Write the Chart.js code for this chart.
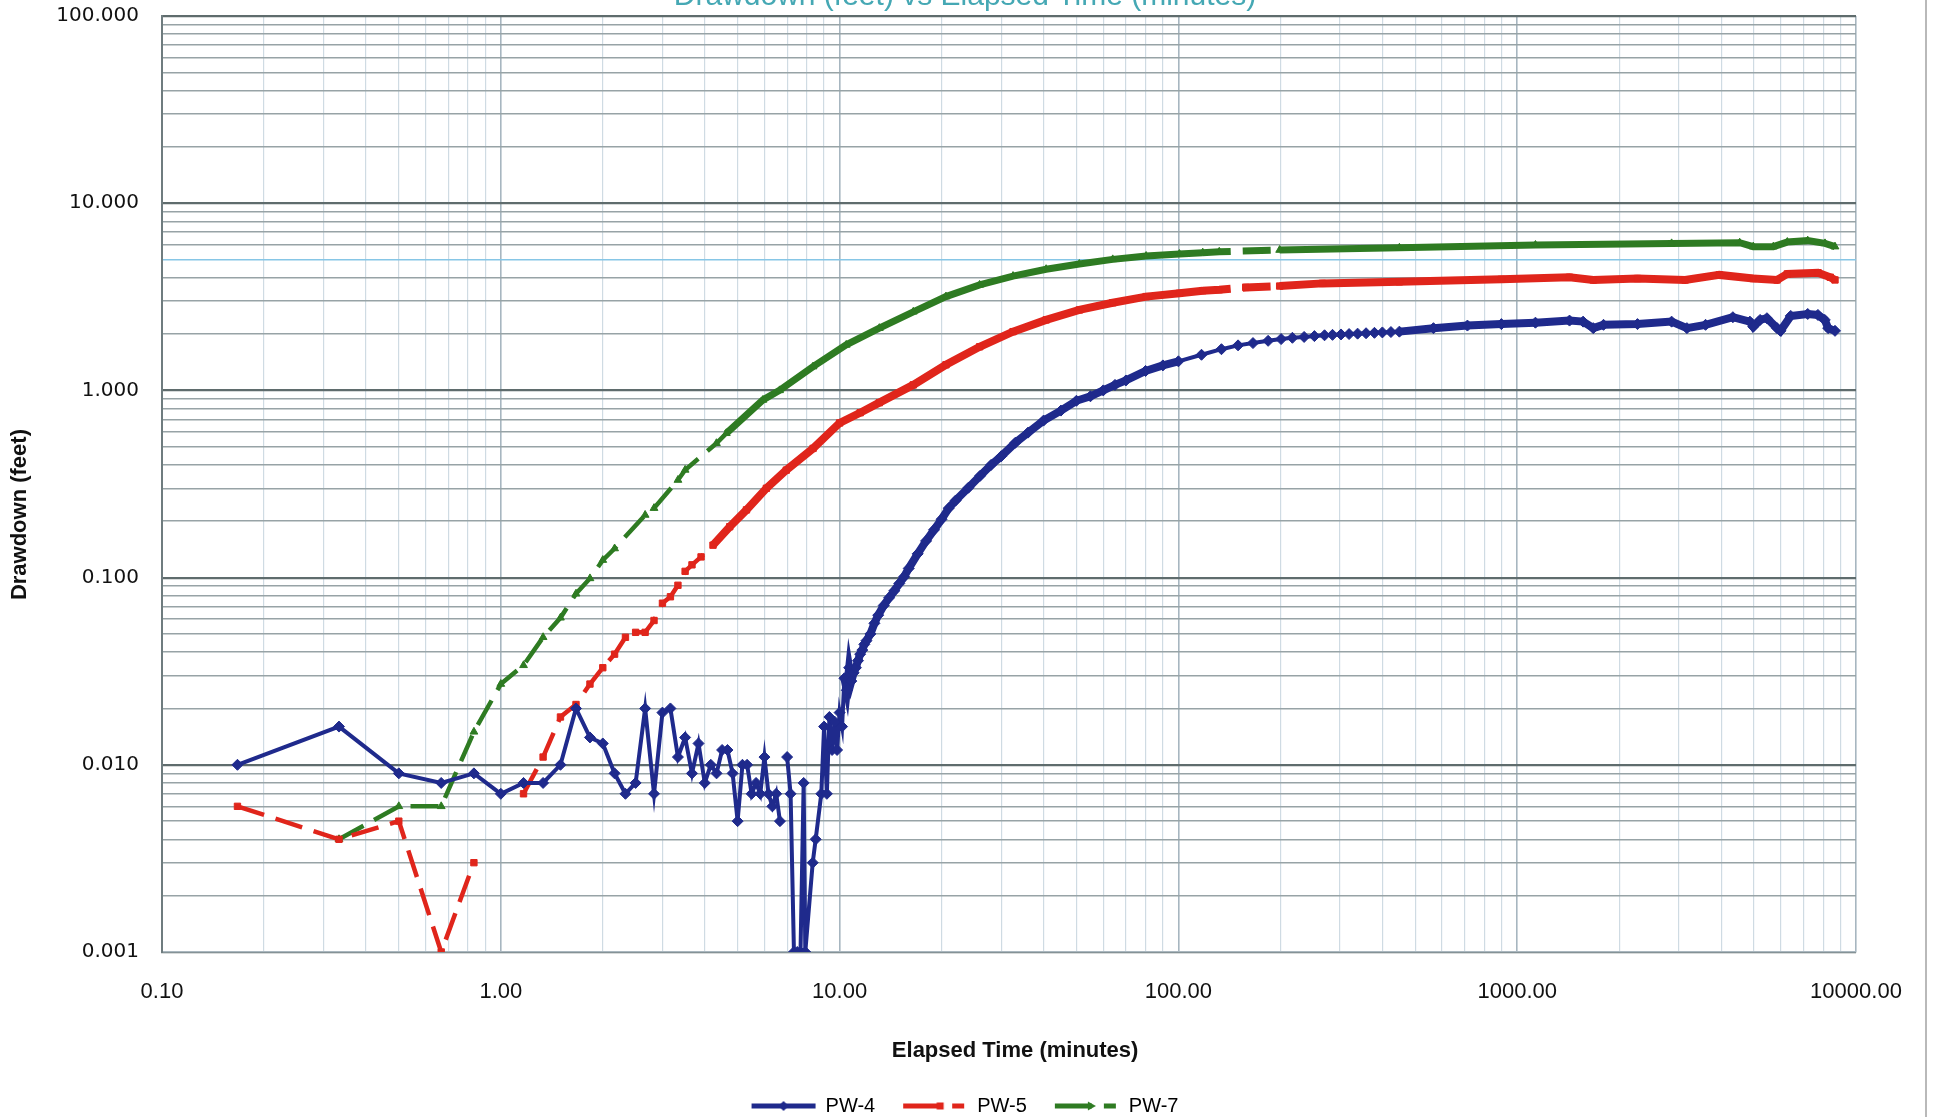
<!DOCTYPE html>
<html lang="en">
<head>
  <meta charset="UTF-8" />
  <meta name="viewport" content="width=device-width, initial-scale=1.0" />
  <title>Drawdown (feet) vs Elapsed Time (minutes)</title>
  <script src="https://cdn.jsdelivr.net/npm/chart.js"></script>
  <style>
    html, body {
      margin: 0;
      padding: 0;
      background: #fff;
      overflow: hidden;
    }
    body {
      width: 1934px;
      height: 1117px;
      position: relative;
    }
    .wrap {
      position: absolute;
      left: 0;
      top: -23px;
      width: 1934px;
      height: 1149px;
    }
    .edge {
      position: absolute;
      left: 1925px;
      top: 0;
      width: 2px;
      height: 1117px;
      background: #b9b9b9;
    }
  </style>
</head>
<body>
  <div class="wrap"><canvas id="drawdownChart"></canvas></div>
  <div class="edge"></div>

  <script>
    // elapsed time (minutes) / drawdown (feet)
    const pw4Time = [0.167, 0.333, 0.5, 0.667, 0.833, 1.0, 1.167, 1.333, 1.5, 1.667, 1.833, 2.0,
      2.167, 2.333, 2.5, 2.667, 2.833, 3.0, 3.167, 3.333, 3.5, 3.667, 3.833, 4.0,
      4.167, 4.333, 4.5, 4.667, 4.833, 5.0, 5.167, 5.333, 5.5, 5.667, 5.833, 6.0,
      6.167, 6.333, 6.5, 6.667, 6.833, 7.0, 7.167, 7.333, 7.5, 7.667, 7.833, 7.92,
      8.33, 8.5, 8.83, 9.0, 9.17, 9.33, 9.5, 9.67, 9.83, 10.0, 10.17, 10.33,
      10.5, 10.67, 10.83, 11.0, 11.17, 11.33, 11.5, 11.67, 11.83, 12.0, 12.33, 12.67,
      13.0, 13.5, 14.0, 14.5, 15.0, 15.5, 16.0, 17.0, 18.0, 19.0, 20.0, 21.0,
      22.0, 24.0, 26.0, 28.0, 30.0, 33.0, 36.0, 40.0, 45.0, 50.0, 55.0, 60.0,
      65.0, 70.0, 80.0, 90.0, 100, 117, 134, 150, 166, 184, 201, 217,
      235, 252, 270, 285, 302, 319, 338, 358, 379, 400, 424, 449,
      566, 713, 898, 1132, 1427, 1565, 1677, 1798, 2265, 2856, 3169, 3597,
      4331, 4862, 4975, 5212, 5458, 5848, 5985, 6418, 7203, 7720, 8087, 8276,
      8670];
    const pw4Drawdown = [0.010, 0.016, 0.009, 0.008, 0.009, 0.007, 0.008, 0.008, 0.010, 0.020, 0.014, 0.013,
      0.009, 0.007, 0.008, 0.020, 0.007, 0.019, 0.020, 0.011, 0.014, 0.009, 0.013, 0.008,
      0.010, 0.009, 0.012, 0.012, 0.009, 0.005, 0.010, 0.010, 0.007, 0.008, 0.007, 0.011,
      0.007, 0.006, 0.007, 0.005, null, 0.011, 0.007, 0.001, 0.001, 0.001, 0.008, 0.001,
      0.003, 0.004, 0.007, 0.016, 0.007, 0.018, 0.012, 0.017, 0.012, 0.019, 0.016, 0.029,
      0.025, 0.033, 0.028, 0.031, 0.033, 0.036, 0.039, 0.041, 0.044, 0.046, 0.050, 0.057,
      0.063, 0.071, 0.078, 0.085, 0.093, 0.101, 0.112, 0.134, 0.157, 0.180, 0.205, 0.235,
      0.258, 0.302, 0.350, 0.400, 0.445, 0.525, 0.595, 0.690, 0.780, 0.880, 0.930, 1.00,
      1.07, 1.13, 1.27, 1.36, 1.43, 1.55, 1.66, 1.74, 1.79, 1.84, 1.88, 1.91,
      1.93, 1.95, 1.97, 1.98, 1.99, 2.00, 2.01, 2.02, 2.03, 2.04, 2.05, 2.06,
      2.15, 2.22, 2.26, 2.30, 2.36, 2.33, 2.15, 2.24, 2.26, 2.33, 2.15, 2.24,
      2.46, 2.33, 2.19, 2.38, 2.43, 2.15, 2.08, 2.50, 2.56, 2.53, 2.38, 2.15,
      2.08];

    const pw5Time = [0.167, 0.333, 0.5, 0.667, 0.833, 1.0, 1.167, 1.333, 1.5, 1.667, 1.833, 2.0,
      2.167, 2.333, 2.5, 2.667, 2.833, 3.0, 3.167, 3.333, 3.5, 3.667, 3.9, 4.23,
      4.74, 5.31, 6.08, 6.96, 8.35, 10.0, 11.5, 13.1, 16.5, 20.6, 25.9, 32.5,
      40.7, 51.0, 64.0, 80.3, 100.7, 118, 132, 158, 199, 266, 449, 898,
      1427, 1677, 2265, 3131, 3950, 4975, 5848, 6270, 7728, 8400, 8670];
    const pw5Drawdown = [0.006, 0.004, 0.005, 0.001, 0.003, null, 0.007, 0.011, 0.018, 0.021, 0.027, 0.033,
      0.039, 0.048, 0.051, 0.051, 0.059, 0.073, 0.079, 0.091, 0.108, 0.117, 0.129, 0.149,
      0.187, 0.230, 0.300, 0.375, 0.490, 0.670, 0.760, 0.860, 1.07, 1.37, 1.71, 2.06,
      2.38, 2.69, 2.94, 3.17, 3.30, 3.41, 3.45, 3.55, 3.61, 3.73, 3.80, 3.92,
      4.02, 3.89, 3.96, 3.89, 4.14, 3.96, 3.89, 4.19, 4.25, 4.02, 3.89];

    const pw7Time = [0.333, 0.5, 0.667, 0.833, 1.0, 1.167, 1.333, 1.5, 1.667, 1.833, 2.0, 2.167,
      2.667, 2.833, 3.333, 3.5, 4.33, 4.63, 5.94, 6.65, 8.35, 10.46, 13.1, 16.5,
      20.6, 25.9, 32.5, 40.7, 51.0, 64.0, 80.3, 100.7, 118, 132, 199, 449,
      1132, 2856, 4536, 4975, 5700, 6270, 7203, 8100, 8670];
    const pw7Drawdown = [0.004, 0.006, 0.006, 0.015, 0.027, 0.034, 0.048, 0.061, 0.082, 0.099, 0.124, 0.143,
      0.216, 0.235, 0.332, 0.376, 0.522, 0.590, 0.889, 1.00, 1.34, 1.75, 2.15, 2.63,
      3.17, 3.66, 4.08, 4.44, 4.73, 5.01, 5.22, 5.35, 5.44, 5.50, 5.62, 5.78,
      5.98, 6.10, 6.15, 5.86, 5.86, 6.20, 6.31, 6.10, 5.86];

    // axis decades (labelled ticks)
    const xDecades = [0.1, 1, 10, 100, 1000, 10000];
    const yDecades = [0.001, 0.01, 0.1, 1, 10, 100];

    function buildLogTicks(decades) {
      const out = [];
      decades.forEach((d, i) => {
        if (i === decades.length - 1) { out.push(d); return; }
        for (let m = 1; m < 10; m++) out.push(+(d * m).toPrecision(6));
      });
      return out;
    }
    function isDecade(v, decades) {
      return decades.some(d => Math.abs(v - d) / d < 1e-9);
    }
    function toPoints(t, d) {
      return t.map((x, i) => ({ x: x, y: d[i] }));
    }

    const xTickValues = buildLogTicks(xDecades);
    const yTickValues = buildLogTicks(yDecades);

    const navy = '#1f2a8c';
    const red = '#e0251b';
    const green = '#2e7b22';

    // little line+marker swatches for the legend, Excel style
    function legendIcon(color, marker, dashed) {
      const c = document.createElement('canvas');
      c.width = 66;
      c.height = 14;
      const g = c.getContext('2d');
      g.strokeStyle = color;
      g.fillStyle = color;
      g.lineWidth = 5;
      g.beginPath();
      if (dashed) {
        g.moveTo(1, 7); g.lineTo(38, 7);
        g.moveTo(50, 7); g.lineTo(62, 7);
      } else {
        g.moveTo(1, 7); g.lineTo(65, 7);
      }
      g.stroke();
      const mx = dashed ? 38 : 33;
      g.beginPath();
      if (marker === 'diamond') {
        g.moveTo(mx, 2); g.lineTo(mx + 5, 7); g.lineTo(mx, 12); g.lineTo(mx - 5, 7);
      } else if (marker === 'square') {
        g.rect(mx - 3.5, 3.5, 7, 7);
      } else {
        g.moveTo(mx - 4, 2.5); g.lineTo(mx + 4, 7); g.lineTo(mx - 4, 11.5);
      }
      g.closePath();
      g.fill();
      return c;
    }
    const legendIcons = [
      legendIcon(navy, 'diamond', false),
      legendIcon(red, 'square', true),
      legendIcon(green, 'triangle', true)
    ];

    const ctx = document.getElementById('drawdownChart').getContext('2d');
    new Chart(ctx, {
      type: 'line',
      data: {
        datasets: [
          {
            label: 'PW-4',
            data: toPoints(pw4Time, pw4Drawdown),
            borderColor: navy,
            backgroundColor: navy,
            borderWidth: 4,
            pointStyle: 'rectRot',
            pointRadius: 5.5,
            pointBorderWidth: 1,
            pointHoverRadius: 0,
            segment: {
              borderWidth: c => ((c.p0.parsed.x >= 10.3 && c.p1.parsed.x <= 100) || c.p0.parsed.x >= 440) ? 8 : 4
            }
          },
          {
            label: 'PW-5',
            data: toPoints(pw5Time, pw5Drawdown),
            borderColor: red,
            backgroundColor: red,
            borderWidth: 4.5,
            pointStyle: 'rect',
            pointRadius: 4.5,
            pointBorderWidth: 1,
            pointHoverRadius: 0,
            segment: {
              borderDash: c => (c.p1.parsed.x <= 4.5 || (c.p0.parsed.x >= 118 && c.p1.parsed.x <= 200)) ? [28, 12] : [],
              borderWidth: c => c.p1.parsed.x <= 4.5 ? 4.5 : 8
            }
          },
          {
            label: 'PW-7',
            data: toPoints(pw7Time, pw7Drawdown),
            borderColor: green,
            backgroundColor: green,
            borderWidth: 4.5,
            pointStyle: 'triangle',
            pointRadius: 4.5,
            pointBorderWidth: 1,
            pointHoverRadius: 0,
            segment: {
              borderDash: c => (c.p1.parsed.x <= 4.7 || (c.p0.parsed.x >= 118 && c.p1.parsed.x <= 200)) ? [28, 12] : [],
              borderWidth: c => c.p1.parsed.x <= 4.7 ? 4.5 : 7
            }
          }
        ]
      },
      options: {
        responsive: true,
        maintainAspectRatio: false,
        animation: false,
        spanGaps: false,
        layout: { padding: { left: 0, right: 4, top: 0, bottom: 0 } },
        plugins: {
          title: {
            display: true,
            text: 'Drawdown (feet) vs Elapsed Time (minutes)',
            color: '#45a8b4',
            font: { family: 'Liberation Sans', size: 30, weight: 'normal' },
            padding: { top: 2, bottom: 1 }
          },
          legend: {
            position: 'bottom',
            labels: {
              color: '#111',
              font: { family: 'Liberation Sans', size: 20 },
              padding: 28,
              usePointStyle: true,
              pointStyleWidth: 64,
              generateLabels: chart => chart.data.datasets.map((ds, i) => ({
                text: ds.label,
                fillStyle: ds.borderColor,
                strokeStyle: ds.borderColor,
                lineWidth: 0,
                pointStyle: legendIcons[i],
                datasetIndex: i,
                hidden: false
              }))
            }
          },
          tooltip: { enabled: false }
        },
        scales: {
          x: {
            type: 'logarithmic',
            min: 0.1,
            max: 10000,
            afterBuildTicks: s => { s.ticks = xTickValues.map(v => ({ value: v })); },
            afterFit: s => { s.height = 116; },
            ticks: {
              autoSkip: false,
              maxRotation: 0,
              padding: 27,
              color: '#111',
              font: { family: 'Liberation Sans', size: 22 },
              callback: v => isDecade(v, xDecades) ? Number(v).toFixed(2) : ''
            },
            grid: {
              drawTicks: false,
              color: c => isDecade(c.tick.value, xDecades) ? '#a7b6c0' : '#cfdbe3',
              lineWidth: c => isDecade(c.tick.value, xDecades) ? 1.6 : 1.2
            },
            border: { color: '#aab7bf', width: 1.5 },
            title: {
              display: true,
              text: '\u00a0\u00a0Elapsed Time (minutes)',
              color: '#111',
              font: { family: 'Liberation Sans', size: 22, weight: 'bold' },
              padding: { top: 0, bottom: 4 }
            }
          },
          y: {
            type: 'logarithmic',
            min: 0.001,
            max: 100,
            afterBuildTicks: s => { s.ticks = yTickValues.map(v => ({ value: v })); },
            afterFit: s => { s.width = 162; },
            ticks: {
              autoSkip: false,
              padding: 23,
              color: '#111',
              font: { family: 'DejaVu Sans', size: 20 },
              callback: v => isDecade(v, yDecades) ? Number(v).toFixed(3) : ''
            },
            grid: {
              drawTicks: false,
              color: c => {
                const v = c.tick.value;
                if (isDecade(v, yDecades)) return '#5f6c6d';
                if (Math.abs(v - 5) < 1e-9) return '#86c6e6';
                return '#97a3a6';
              },
              lineWidth: c => isDecade(c.tick.value, yDecades) ? 2.2 : 1.5
            },
            border: { color: '#6f7c7f', width: 2 },
            title: {
              display: true,
              text: 'Drawdown (feet)' + '\u00a0'.repeat(10),
              color: '#111',
              font: { family: 'Liberation Sans', size: 22, weight: 'bold' },
              padding: { top: 7, bottom: 0 }
            }
          },
          yRight: {
            type: 'linear',
            position: 'right',
            display: true,
            ticks: { display: false },
            grid: { drawOnChartArea: false, drawTicks: false },
            border: { display: false },
            afterFit: s => { s.width = 74; }
          }
        }
      }
    });
  </script>
</body>
</html>
